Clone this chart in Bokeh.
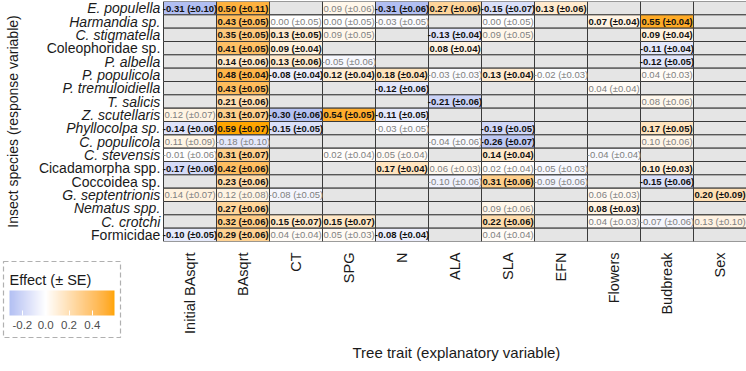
import math
from bokeh.plotting import figure
from bokeh.models import (ColumnDataSource, Range1d, LinearColorMapper, ColorBar,
                          FixedTicker, PrintfTickFormatter, AllLabels, Title)
from bokeh.core.properties import value
from bokeh.embed import file_html
from bokeh.resources import INLINE

species = ["E. populella", "Harmandia sp.", "C. stigmatella", "Coleophoridae sp.",
           "P. albella", "P. populicola", "P. tremuloidiella", "T. salicis",
           "Z. scutellaris", "Phyllocolpa sp.", "C. populicola", "C. stevensis",
           "Cicadamorpha spp.", "Coccoidea sp.", "G. septentrionis", "Nematus spp.",
           "C. crotchi", "Formicidae"]
italic = [True, True, True, False, True, True, True, True, True, True, True, True,
          False, False, True, True, True, False]
traits = ["Initial BAsqrt", "BAsqrt", "CT", "SPG", "N", "ALA", "SLA", "EFN",
          "Flowers", "Budbreak", "Sex"]

N_ = None
# effect estimates (rows = species, columns = traits)
effect = [
    [-0.31, 0.50, N_, 0.09, -0.31, 0.27, -0.15, 0.13, N_, N_, N_],
    [N_, 0.43, 0.00, 0.00, -0.03, N_, 0.00, N_, 0.07, 0.55, N_],
    [N_, 0.35, 0.13, 0.09, N_, -0.13, 0.09, N_, N_, 0.09, N_],
    [N_, 0.41, 0.09, N_, N_, 0.08, N_, N_, N_, -0.11, N_],
    [N_, 0.14, 0.13, -0.05, N_, N_, N_, N_, N_, -0.12, N_],
    [N_, 0.48, -0.08, 0.12, 0.18, -0.03, 0.13, -0.02, N_, 0.04, N_],
    [N_, 0.43, N_, N_, -0.12, N_, N_, N_, 0.04, N_, N_],
    [N_, 0.21, N_, N_, N_, -0.21, N_, N_, N_, 0.08, N_],
    [0.12, 0.31, -0.30, 0.54, -0.11, N_, N_, N_, N_, N_, N_],
    [-0.14, 0.59, -0.15, N_, -0.03, N_, -0.19, N_, N_, 0.17, N_],
    [0.11, -0.18, N_, N_, N_, -0.04, -0.26, N_, N_, 0.10, N_],
    [-0.01, 0.31, N_, 0.02, 0.05, N_, 0.14, N_, -0.04, N_, N_],
    [-0.17, 0.42, N_, N_, 0.17, 0.06, 0.02, -0.05, N_, 0.10, N_],
    [N_, 0.23, N_, N_, N_, -0.10, 0.31, -0.09, N_, -0.15, N_],
    [0.14, 0.12, -0.08, N_, N_, N_, N_, N_, 0.06, N_, 0.20],
    [N_, 0.27, N_, N_, N_, N_, 0.09, N_, 0.08, N_, N_],
    [N_, 0.32, 0.15, 0.15, N_, N_, 0.22, N_, 0.04, -0.07, 0.13],
    [-0.10, 0.29, 0.04, 0.05, -0.08, N_, 0.04, N_, N_, N_, N_],
]
# standard errors
se = [
    [0.10, 0.11, N_, 0.06, 0.06, 0.06, 0.07, 0.06, N_, N_, N_],
    [N_, 0.05, 0.05, 0.05, 0.05, N_, 0.05, N_, 0.04, 0.04, N_],
    [N_, 0.05, 0.05, 0.05, N_, 0.04, 0.05, N_, N_, 0.04, N_],
    [N_, 0.05, 0.04, N_, N_, 0.04, N_, N_, N_, 0.04, N_],
    [N_, 0.06, 0.06, 0.06, N_, N_, N_, N_, N_, 0.05, N_],
    [N_, 0.04, 0.04, 0.04, 0.04, 0.03, 0.04, 0.03, N_, 0.03, N_],
    [N_, 0.05, N_, N_, 0.06, N_, N_, N_, 0.04, N_, N_],
    [N_, 0.06, N_, N_, N_, 0.06, N_, N_, N_, 0.06, N_],
    [0.07, 0.07, 0.06, 0.05, 0.05, N_, N_, N_, N_, N_, N_],
    [0.06, 0.07, 0.05, N_, 0.05, N_, 0.05, N_, N_, 0.05, N_],
    [0.09, 0.10, N_, N_, N_, 0.06, 0.07, N_, N_, 0.06, N_],
    [0.06, 0.07, N_, 0.04, 0.04, N_, 0.04, N_, 0.04, N_, N_],
    [0.06, 0.06, N_, N_, 0.04, 0.03, 0.04, 0.03, N_, 0.03, N_],
    [N_, 0.06, N_, N_, N_, 0.06, 0.06, 0.06, N_, 0.06, N_],
    [0.07, 0.08, 0.05, N_, N_, N_, N_, N_, 0.03, N_, 0.09],
    [N_, 0.06, N_, N_, N_, N_, 0.06, N_, 0.03, N_, N_],
    [N_, 0.06, 0.07, 0.07, N_, N_, 0.06, N_, 0.03, 0.06, 0.10],
    [0.05, 0.06, 0.04, 0.03, 0.04, N_, 0.04, N_, N_, N_, N_],
]
# 1 = significant (bold label), 0 = not significant
significant = [
    [1, 1, 0, 0, 1, 1, 1, 1, 0, 0, 0],
    [0, 1, 0, 0, 0, 0, 0, 0, 1, 1, 0],
    [0, 1, 1, 0, 0, 1, 0, 0, 0, 1, 0],
    [0, 1, 1, 0, 0, 1, 0, 0, 0, 1, 0],
    [0, 1, 1, 0, 0, 0, 0, 0, 0, 1, 0],
    [0, 1, 1, 1, 1, 0, 1, 0, 0, 0, 0],
    [0, 1, 0, 0, 1, 0, 0, 0, 0, 0, 0],
    [0, 1, 0, 0, 0, 1, 0, 0, 0, 0, 0],
    [0, 1, 1, 1, 1, 0, 0, 0, 0, 0, 0],
    [1, 1, 1, 0, 0, 0, 1, 0, 0, 1, 0],
    [0, 0, 0, 0, 0, 0, 1, 0, 0, 0, 0],
    [0, 1, 0, 0, 0, 0, 1, 0, 0, 0, 0],
    [1, 1, 0, 0, 1, 0, 0, 0, 0, 1, 0],
    [0, 1, 0, 0, 0, 0, 1, 0, 0, 1, 0],
    [0, 0, 0, 0, 0, 0, 0, 0, 0, 0, 1],
    [0, 1, 0, 0, 0, 0, 0, 0, 1, 0, 0],
    [0, 1, 1, 1, 0, 0, 1, 0, 0, 0, 0],
    [1, 1, 0, 0, 1, 0, 0, 0, 0, 0, 0],
]
color_low, color_mid, color_high = "#5f8ae6", "#ffffff", "#ffa500"
scale_low, scale_high = -0.31, 0.59
legend_ticks = [-0.2, 0.0, 0.2, 0.4]


# ---- Lab interpolation (diverging gradient, midpoint 0) ----
def _hex2rgb(h):
    h = h.lstrip("#")
    return [int(h[i:i + 2], 16) / 255 for i in (0, 2, 4)]


def _lin(c):
    return c / 12.92 if c <= 0.04045 else ((c + 0.055) / 1.055) ** 2.4


def _gam(c):
    c = min(max(c, 0.0), 1.0)
    return 12.92 * c if c <= 0.0031308 else 1.055 * c ** (1 / 2.4) - 0.055


def _rgb2lab(h):
    r, g, b = [_lin(c) for c in _hex2rgb(h)]
    X = (0.4124 * r + 0.3576 * g + 0.1805 * b) / 0.95047
    Y = (0.2126 * r + 0.7152 * g + 0.0722 * b)
    Z = (0.0193 * r + 0.1192 * g + 0.9505 * b) / 1.08883
    f = lambda t: t ** (1 / 3) if t > 0.008856 else 7.787 * t + 16 / 116
    fx, fy, fz = f(X), f(Y), f(Z)
    return (116 * fy - 16, 500 * (fx - fy), 200 * (fy - fz))


def _lab2hex(L, a, b):
    fy = (L + 16) / 116
    fx = fy + a / 500
    fz = fy - b / 200
    finv = lambda t: t ** 3 if t ** 3 > 0.008856 else (t - 16 / 116) / 7.787
    X, Y, Z = 0.95047 * finv(fx), finv(fy), 1.08883 * finv(fz)
    r = 3.2406 * X - 1.5372 * Y - 0.4986 * Z
    g = -0.9689 * X + 1.8758 * Y + 0.0415 * Z
    bb = 0.0557 * X - 0.2040 * Y + 1.0570 * Z
    return "#%02x%02x%02x" % tuple(int(round(_gam(c) * 255)) for c in (r, g, bb))


LAB_LOW, LAB_MID, LAB_HIGH = _rgb2lab(color_low), _rgb2lab(color_mid), _rgb2lab(color_high)
lim = max(abs(scale_low), abs(scale_high))


def div_color(v):
    t = max(-1.0, min(1.0, v / lim))
    end = LAB_HIGH if t >= 0 else LAB_LOW
    t = abs(t)
    return _lab2hex(*[m + (e - m) * t for m, e in zip(LAB_MID, end)])


n_pal = 256
palette = [div_color(scale_low + (scale_high - scale_low) * i / (n_pal - 1)) for i in range(n_pal)]
mapper = LinearColorMapper(palette=palette, low=scale_low, high=scale_high, nan_color="#e5e5e5")

# ---- data table ----
n_rows, n_cols = len(species), len(traits)
xs, ys, vals, alphas = [], [], [], []
tx_s, ty_s, tt_s = [], [], []
tx_n, ty_n, tt_n = [], [], []
for i in range(n_rows):
    for j in range(n_cols):
        v = effect[i][j]
        xc, yc = j + 0.5, i + 0.5
        xs.append(xc)
        ys.append(yc)
        if v is None:
            vals.append(float("nan"))
            alphas.append(1.0)
            continue
        vals.append(v)
        lab = "%.2f (\u00b1%.2f)" % (v, se[i][j])
        if significant[i][j]:
            alphas.append(1.0)
            tx_s.append(xc); ty_s.append(yc); tt_s.append(lab)
        else:
            alphas.append(0.6)
            tx_n.append(xc); ty_n.append(yc); tt_n.append(lab)

cells = ColumnDataSource(dict(x=xs, y=ys, val=vals, alpha=alphas))
sig_src = ColumnDataSource(dict(x=tx_s, y=ty_s, t=tt_s))
ns_src = ColumnDataSource(dict(x=tx_n, y=ty_n, t=tt_n))

W, H = 746, 371
label_px = 163                      # room on the left for the row names
cell_px = (W - label_px) / n_cols
x_start = -label_px / cell_px       # frame covers the label area too

p = figure(width=W, height=H, output_backend="svg", toolbar_location=None,
           x_range=Range1d(x_start, n_cols), y_range=Range1d(n_rows, 0),
           min_border_left=0, min_border_right=0, min_border_top=1, min_border_bottom=130)
p.rect(x="x", y="y", width=1, height=1, source=cells,
       fill_color={"field": "val", "transform": mapper}, fill_alpha="alpha",
       line_color="#3a3a3a", line_width=1)
FONT = value("Liberation Sans")
p.text(x="x", y="y", text="t", source=sig_src, text_font=FONT, text_font_size="9.5px",
       text_font_style="bold", text_color="#111111", text_align="center", text_baseline="middle")
p.text(x="x", y="y", text="t", source=ns_src, text_font=FONT, text_font_size="9.5px",
       text_color="#808080", text_align="center", text_baseline="middle")

# row names (mixed italic / upright)
row_src = ColumnDataSource(dict(
    x=[-3.2 / cell_px] * n_rows, y=[i + 0.5 for i in range(n_rows)], t=species,
    style=["italic" if it else "normal" for it in italic]))
p.text(x="x", y="y", text="t", source=row_src, text_font=FONT, text_font_size="14px",
       text_font_style="style", text_color="#1a1a1a", text_align="right",
       text_baseline="middle")

# y axis title
p.text(x=[x_start + 12 / cell_px], y=[n_rows / 2], text=["Insect species (response variable)"],
       angle=math.pi / 2, text_font=FONT, text_font_size="14px", text_color="#1a1a1a",
       text_align="center", text_baseline="middle")

p.grid.visible = False
p.outline_line_color = None
p.yaxis.visible = False

xa = p.xaxis[0]
xa.ticker = FixedTicker(ticks=[j + 0.5 for j in range(n_cols)])
xa.major_label_overrides = {j + 0.5: t for j, t in enumerate(traits)}
xa.major_label_orientation = math.pi / 2
xa.major_label_text_font = "Liberation Sans"
xa.major_label_text_font_size = "14.5px"
xa.major_label_text_color = "#1a1a1a"
xa.major_tick_line_color = None
xa.minor_tick_line_color = None
xa.axis_line_color = None
xa.major_label_standoff = 5

# x axis title, centred on the heatmap columns (not on the label area)
p.add_layout(Title(text="Tree trait (explanatory variable)", align="left", offset=352,
                   text_font="Liberation Sans", text_font_size="15px",
                   text_font_style="normal", text_color="#1a1a1a", standoff=10), "below")

cb_kwargs = dict(color_mapper=mapper, orientation="horizontal", width=105, height=25,
                 location=(3, -96), title="Effect (\u00b1 SE)",
                 title_text_font="Liberation Sans", title_text_font_size="14.5px",
                 title_text_font_style="normal", title_text_color="#1a1a1a", title_standoff=5,
                 ticker=FixedTicker(ticks=legend_ticks),
                 formatter=PrintfTickFormatter(format="%.1f"),
                 major_label_text_font="Liberation Sans", major_label_text_font_size="11.5px",
                 major_label_text_color="#4d4d4d",
                 major_tick_line_color="white", major_tick_in=5, major_tick_out=0,
                 bar_line_color=None, padding=6,
                 border_line_color="#b0b0b0", border_line_dash="5 3", border_line_width=1.2,
                 background_fill_color="white")
if "major_label_policy" in ColorBar.properties():
    cb_kwargs["major_label_policy"] = AllLabels()
cb = ColorBar(**cb_kwargs)
p.add_layout(cb, "center")

open("out.html", "w").write(file_html(p, INLINE))
